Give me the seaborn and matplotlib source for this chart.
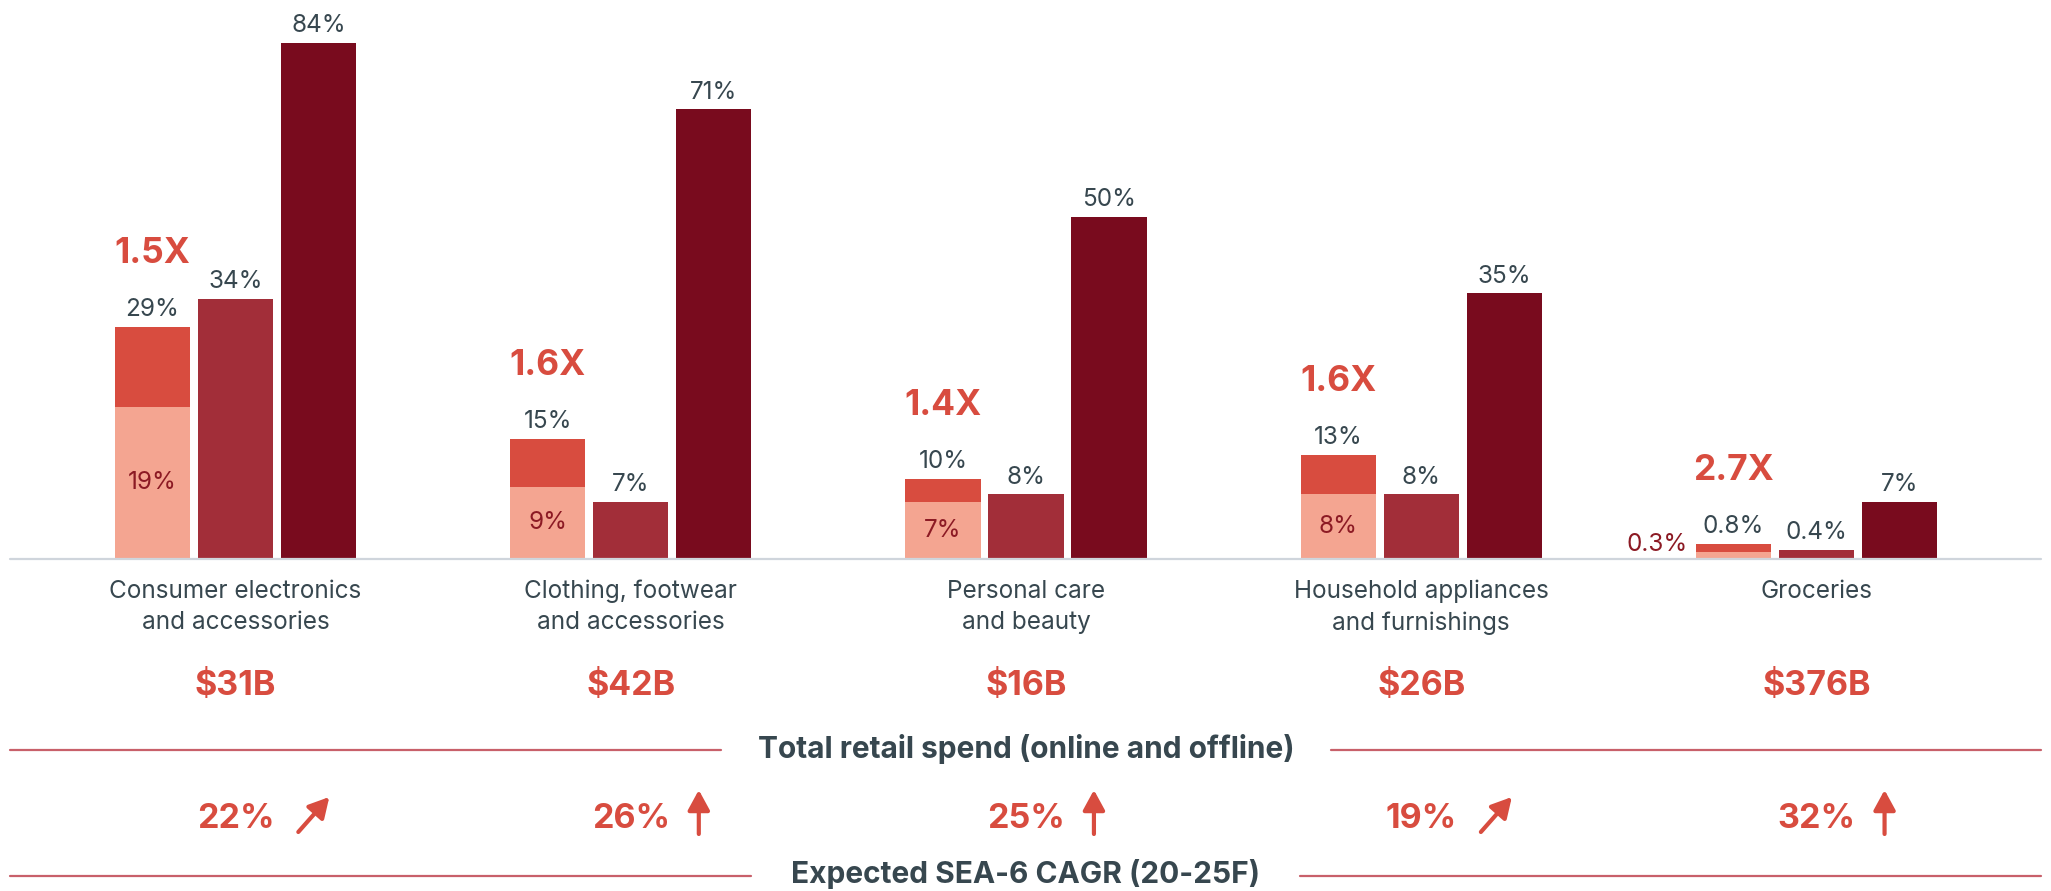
import numpy as np
import pandas as pd
import matplotlib
matplotlib.use("Agg")
import matplotlib.pyplot as plt
import seaborn as sns
from matplotlib.lines import Line2D
from matplotlib.transforms import blended_transform_factory

# ---------------- data ----------------
categories = ["Consumer electronics\nand accessories",
              "Clothing, footwear\nand accessories",
              "Personal care\nand beauty",
              "Household appliances\nand furnishings",
              "Groceries"]
light_share = [19, 9, 7, 8, 0.3]
stack_total = [29, 15, 10, 13, 0.8]
mid_share = [34, 7, 8, 8, 0.4]
dark_share = [84, 71, 50, 35, 7]
multipliers = ["1.5X", "1.6X", "1.4X", "1.6X", "2.7X"]
total_spend = ["$31B", "$42B", "$16B", "$26B", "$376B"]
cagr = ["22%", "26%", "25%", "19%", "32%"]
cagr_arrow = ["diag", "up", "up", "diag", "up"]
spend_title = "Total retail spend (online and offline)"
cagr_title = "Expected SEA-6 CAGR (20-25F)"

# ---------------- style ----------------
LIGHT = "#F4A591"
RED = "#D84C3F"
MID = "#A22E39"
DARK = "#790B1E"
SLATE = "#37474F"
INNER = "#8C1A24"
DIVIDER = "#C8606A"
BASE = "#CFD5DC"

sns.set_style("white")
plt.rcParams["font.family"] = ["Inter", "DejaVu Sans"]

W, H = 2051, 891
fig = plt.figure(figsize=(W / 100, H / 100), dpi=100)
ax = fig.add_axes([10 / W, 1 - 559 / H, 2031 / W, 559 / H])

levels = ["stack", "mid", "dark"]
df = pd.DataFrame({
    "category": categories * 3,
    "series": ["stack"] * 5 + ["mid"] * 5 + ["dark"] * 5,
    "value": stack_total + mid_share + dark_share,
})
df_light = pd.DataFrame({"category": categories, "series": ["stack"] * 5,
                         "value": light_share})

common = dict(x="category", y="value", hue="series", hue_order=levels,
              order=categories, width=0.63, gap=0.095, saturation=1,
              dodge=True, errorbar=None, legend=False, ax=ax, linewidth=0)
sns.barplot(data=df, palette={"stack": RED, "mid": MID, "dark": DARK}, **common)
sns.barplot(data=df_light, palette={"stack": LIGHT, "mid": MID, "dark": DARK}, **common)


# display scale of the original: small values enlarged, tall bars compressed
def fwd(v):
    v = np.asarray(v, dtype=float)
    base = v + 2.4 * v * np.exp(-np.abs(v) / 1.5)
    return np.where(v > 30, 30 + 0.64 * (v - 30), base)


_grid = np.linspace(0, 300, 30001)


def inv(u):
    return np.interp(np.asarray(u, dtype=float), fwd(_grid), _grid)


ax.set_yscale("function", functions=(fwd, inv))
ax.set_ylim(0, float(inv(559 / 8)))
ax.set_xlim(-0.5705, 4.568)
ax.set_yticks([])
ax.set_xlabel("")
ax.set_ylabel("")
for s in ax.spines.values():
    s.set_visible(False)
ax.axhline(0, color=BASE, lw=1.6, zorder=5, clip_on=False)

LBL = 17.5
ax.tick_params(axis="x", length=0, pad=15, labelsize=LBL, labelcolor=SLATE)
for lab in ax.get_xticklabels():
    lab.set_linespacing(1.45)

cont_stack, cont_mid, cont_dark, cont_light = ax.containers[:4]

fmt = lambda v: f"{v:g}%"
for cont, vals in [(cont_stack, stack_total), (cont_mid, mid_share),
                   (cont_dark, dark_share)]:
    ax.bar_label(cont, labels=[fmt(v) for v in vals], padding=4,
                 fontsize=LBL, color=SLATE)
ax.bar_label(cont_stack, labels=multipliers, padding=41, fontsize=25.5,
             fontweight="bold", color=RED)
inner = [fmt(v) if v >= 1 else "" for v in light_share]
ax.bar_label(cont_light, labels=inner, label_type="center", fontsize=LBL,
             color=INNER)
for i, v in enumerate(light_share):
    if v < 1:
        p = cont_light.patches[i]
        ax.annotate(fmt(v), xy=(p.get_x(), 0), xytext=(-6, 2),
                    textcoords="offset points", ha="right", va="bottom",
                    fontsize=LBL, color=INNER, annotation_clip=False)

# ---------------- lower panel ----------------
bt = blended_transform_factory(ax.transData, fig.transFigure)
yf = lambda px: 1 - px / H

for i, s in enumerate(total_spend):
    ax.text(i, yf(686), s, transform=bt, ha="center", va="center",
            fontsize=24.5, fontweight="bold", color=RED)

cagr_texts = []
for i, s in enumerate(cagr):
    cagr_texts.append(ax.text(i, yf(819), s, transform=bt, ha="center",
                              va="center", fontsize=24.5, fontweight="bold",
                              color=RED))

t1 = ax.text(2, yf(749.5), spend_title, transform=bt, ha="center",
             va="center", fontsize=21.5, fontweight="bold", color=SLATE)
t2 = ax.text(2, yf(874), cagr_title, transform=bt, ha="center",
             va="center", fontsize=21.5, fontweight="bold", color=SLATE)

fig.canvas.draw()
r = fig.canvas.get_renderer()
for t, ly, gap in [(t1, 749.5, 37), (t2, 876, 40)]:
    bb = t.get_window_extent(r)
    y = (H - ly) / H
    for xs in ([10, bb.x0 - gap], [bb.x1 + gap, 2041]):
        fig.add_artist(Line2D([xs[0] / W, xs[1] / W], [y, y],
                              transform=fig.transFigure, color=DIVIDER, lw=1.6))

for t, kind in zip(cagr_texts, cagr_arrow):
    bb = t.get_window_extent(r)
    if kind == "up":
        x = bb.x1 + 29
        tail, tip = (x, H - 834), (x, H - 790)
    else:
        tail, tip = (bb.x1 + 24, H - 832), (bb.x1 + 55, H - 797)
    ax.annotate("", xy=tip, xycoords="figure pixels", xytext=tail,
                textcoords="figure pixels", annotation_clip=False,
                arrowprops=dict(arrowstyle="-|>,head_length=0.55,head_width=0.3",
                                lw=3, color=RED, shrinkA=0, shrinkB=0,
                                mutation_scale=22))

fig.savefig("out.png", dpi=100)
